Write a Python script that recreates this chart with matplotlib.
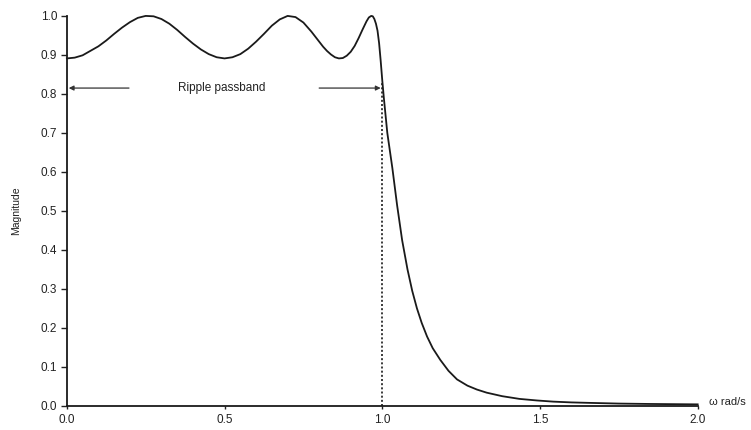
import matplotlib
matplotlib.use("Agg")
import matplotlib.pyplot as plt

# Magnitude response
omega = [0.0, 0.025, 0.05, 0.1, 0.125, 0.15, 0.175, 0.2, 0.225, 0.25, 0.275, 0.3, 0.325,
         0.35, 0.375, 0.4, 0.425, 0.45, 0.475, 0.5, 0.525, 0.55, 0.575, 0.6, 0.625, 0.65,
         0.675, 0.7, 0.725, 0.75, 0.775, 0.8, 0.8125, 0.825, 0.8375, 0.85, 0.8625, 0.875,
         0.8875, 0.9, 0.9125, 0.925, 0.9375, 0.95, 0.9575, 0.965, 0.97, 0.975, 0.98,
         0.985, 0.99, 0.995, 1.0, 1.005, 1.016, 1.032, 1.047, 1.063, 1.08, 1.095, 1.11,
         1.125, 1.142, 1.16, 1.184, 1.21, 1.237, 1.27, 1.30, 1.331, 1.38, 1.435, 1.49,
         1.542, 1.6, 1.647, 1.75, 1.85, 2.0]
magnitude = [0.891, 0.893, 0.899, 0.922, 0.937, 0.954, 0.970, 0.984, 0.995, 1.0, 0.999,
             0.992, 0.980, 0.964, 0.946, 0.929, 0.914, 0.902, 0.894, 0.891, 0.894, 0.902,
             0.916, 0.934, 0.954, 0.975, 0.991, 1.0, 0.997, 0.983, 0.960, 0.934, 0.921,
             0.910, 0.901, 0.894, 0.891, 0.892, 0.898, 0.908, 0.923, 0.943, 0.965, 0.986,
             0.996, 1.0, 0.999, 0.992, 0.980, 0.962, 0.930, 0.885, 0.835, 0.79, 0.70,
             0.61, 0.515, 0.425, 0.35, 0.295, 0.25, 0.213, 0.178, 0.148, 0.118, 0.09,
             0.068, 0.052, 0.042, 0.034, 0.025, 0.018, 0.014, 0.011, 0.009, 0.008, 0.006,
             0.005, 0.004]

x_ticks = [0.0, 0.5, 1.0, 1.5, 2.0]
y_ticks = [0.0, 0.1, 0.2, 0.3, 0.4, 0.5, 0.6, 0.7, 0.8, 0.9, 1.0]
cutoff = 1.0
ripple_level = 0.815
annotation = "Ripple passband"

plt.rcParams['font.family'] = ['Liberation Sans', 'DejaVu Sans']

fig = plt.figure(figsize=(7.51, 4.30), dpi=100)
ax = fig.add_axes([0.089, 0.056, 0.840, 0.907])

ax.plot(omega, magnitude, color='#1a1a1a', lw=1.3, clip_on=False,
        solid_joinstyle='round')
ax.plot([cutoff, cutoff], [0, 0.83], color='#1a1a1a', lw=1.2, linestyle=(0, (1.2, 1.3)))

ax.annotate('', xy=(0.006, ripple_level), xytext=(0.197, ripple_level),
            arrowprops=dict(arrowstyle='-|>', color='#333333', lw=0.9,
                            mutation_scale=7, shrinkA=0, shrinkB=0))
ax.annotate('', xy=(0.995, ripple_level), xytext=(0.80, ripple_level),
            arrowprops=dict(arrowstyle='-|>', color='#333333', lw=0.9,
                            mutation_scale=7, shrinkA=0, shrinkB=0))
ax.text(0.49, ripple_level, annotation, ha='center', va='center', fontsize=8.5,
        color='#222222')

ax.set_xlim(0, 2.0)
ax.set_ylim(0, 1.0)
ax.set_xticks(x_ticks)
ax.set_yticks(y_ticks)
ax.set_xticklabels([f"{t:.1f}" for t in x_ticks])
ax.set_yticklabels([f"{t:.1f}" for t in y_ticks])
ax.tick_params(axis='both', labelsize=8.5, colors='#222222', width=1.0)
ax.tick_params(axis='x', length=2, pad=4)
ax.tick_params(axis='y', length=4, pad=3)

for s in ['top', 'right']:
    ax.spines[s].set_visible(False)
for s in ['left', 'bottom']:
    ax.spines[s].set_linewidth(1.3)
    ax.spines[s].set_color('#1a1a1a')

ax.set_ylabel('Magnitude', fontsize=7.5, color='#222222', labelpad=14)
ax.text(2.035, 0.01, 'ω rad/s', fontsize=8, color='#222222', ha='left', va='center',
        clip_on=False)

fig.savefig('out.png', dpi=100)
